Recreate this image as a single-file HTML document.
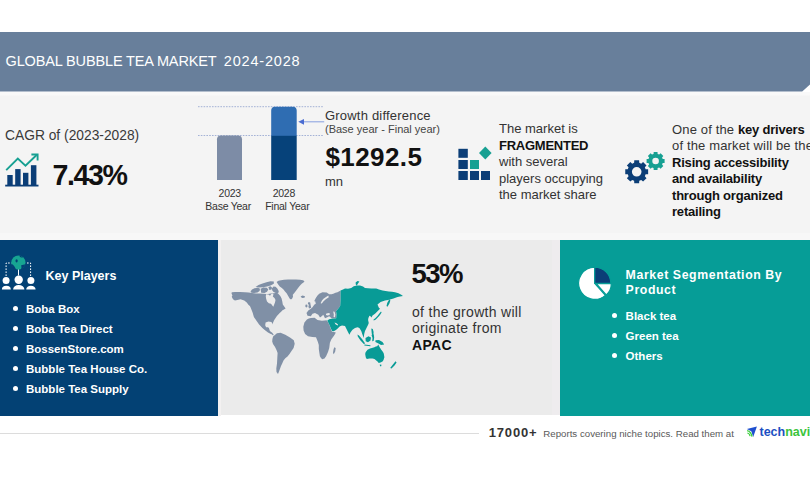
<!DOCTYPE html>
<html>
<head>
<meta charset="utf-8">
<style>
*{margin:0;padding:0;box-sizing:border-box}
html,body{width:810px;height:480px;overflow:hidden;background:#fff}
body{position:relative;font-family:"Liberation Sans",Arial,sans-serif;color:#222}
.a{position:absolute;white-space:nowrap}
#hdr{left:0;top:32px;width:810px;height:59.6px;background:#687f9b;clip-path:polygon(0 0,810px 0,810px 52.4px,802.2px 59.6px,0 59.6px)}
#title{left:5.5px;top:52.3px;font-size:14.5px;line-height:18px;color:#fff;letter-spacing:-0.14px}
#band{left:0;top:91.5px;width:810px;height:141px;background:linear-gradient(#f9f9f9 0,#f9f9f9 3px,#f4f4f4 4px)}
#strip{left:0;top:232.5px;width:810px;height:7.5px;background:#f7f7f7}
.t13{font-size:13px;line-height:16.5px;color:#333}
.b{font-weight:bold;color:#111}
.drv{letter-spacing:0.15px}.drv .b{letter-spacing:-0.2px}
#navy{left:0;top:239.7px;width:218px;height:176.5px;background:#034174}
#gap0{left:218px;top:239.7px;width:2.5px;height:176px;background:#f3f1f1}
#gray{left:220.5px;top:239.7px;width:331.2px;height:175.7px;background:#ebebeb}
#gap{left:551.7px;top:239.7px;width:7.9px;height:175.7px;background:#eeecee}
#teal{left:559.6px;top:239.7px;width:251px;height:176px;background:#069d97}
.w{color:#fff}
ul.l{list-style:none}
.l li{position:relative;font-weight:bold;font-size:11.5px;line-height:20px;color:#fff}
.l li:before{content:"";position:absolute;left:-13.2px;top:6.8px;width:5px;height:5px;border-radius:50%;background:#fff}
.lab{font-size:10.5px;line-height:12.5px;color:#333;letter-spacing:-0.25px}
#fline{left:0;top:433px;width:479px;height:1px;background:#dcdcdc}
</style>
</head>
<body>
<div class="a" id="hdr"></div>
<div class="a" id="title">GLOBAL BUBBLE TEA MARKET <span style="letter-spacing:0.81px;margin-left:3.7px">2024-2028</span></div>
<div class="a" id="band"></div>
<div class="a" id="strip"></div>

<!-- CAGR -->
<div class="a" id="cagr" style="left:5px;top:127px;font-size:13.8px;line-height:18px;color:#3a3a3a">CAGR of (2023-2028)</div>
<svg class="a" style="left:0;top:148px" width="45" height="45" viewBox="0 148 45 45">
  <g fill="#0b3e77">
    <rect x="7.3" y="175" width="5.4" height="10.5"/>
    <rect x="15.2" y="169.1" width="5.4" height="16.4"/>
    <rect x="23" y="172.8" width="5.4" height="12.7"/>
    <rect x="30.9" y="165.2" width="5.5" height="20.3"/>
    <rect x="5.2" y="184.7" width="33.3" height="1.8"/>
  </g>
  <polyline points="6.2,170.2 17.8,158.6 25.5,165.6 36.6,155" fill="none" stroke="#17a092" stroke-width="1.9"/>
  <polyline points="31.4,154.5 37.6,154.5 37.6,160.5" fill="none" stroke="#17a092" stroke-width="1.9"/>
</svg>
<div class="a" id="cagrv" style="left:52.5px;top:159.4px;font-size:28.6px;line-height:32px;font-weight:bold;color:#111;letter-spacing:-1.4px">7.43%</div>

<!-- bar chart -->
<svg class="a" style="left:196px;top:100px" width="130" height="85" viewBox="196 100 130 85">
  <line x1="198" y1="106.7" x2="323" y2="106.7" stroke="#a4b2d6" stroke-width="1" stroke-dasharray="1.6,1.2"/>
  <line x1="198" y1="135.5" x2="323" y2="135.5" stroke="#a4b2d6" stroke-width="1" stroke-dasharray="1.6,1.2"/>
  <path d="M217,180 V139.3 a3.8,3.8 0 0 1 3.8,-3.8 H238.2 a3.8,3.8 0 0 1 3.8,3.8 V180 Z" fill="#7d8ca6"/>
  <path d="M271.2,136 V110.5 a3.8,3.8 0 0 1 3.8,-3.8 H292.9 a3.8,3.8 0 0 1 3.8,3.8 V136 Z" fill="#2f6db2"/>
  <rect x="271.2" y="135.8" width="25.5" height="44.2" fill="#06427a"/>
  <line x1="302" y1="121.8" x2="324.2" y2="121.8" stroke="#8fa6e2" stroke-width="1.1"/>
  <path d="M298.3,121.8 L304,118.9 L304,124.7 Z" fill="#4a6cd2"/>
</svg>
<div class="a lab" style="left:218.6px;top:186.5px">2023</div>
<div class="a lab" style="left:205.3px;top:199.8px">Base Year</div>
<div class="a lab" style="left:272.7px;top:186.5px">2028</div>
<div class="a lab" style="left:265.2px;top:199.8px">Final Year</div>

<!-- growth -->
<div class="a" style="left:325px;top:108px;font-size:13px;line-height:15px;color:#333;letter-spacing:0.2px">Growth difference</div>
<div class="a" style="left:325px;top:123px;font-size:11px;line-height:13px;color:#444">(Base year - Final year)</div>
<div class="a" style="left:325.5px;top:142.8px;font-size:26px;line-height:28px;font-weight:bold;color:#111;letter-spacing:0.4px">$1292.5</div>
<div class="a" style="left:325px;top:174px;font-size:13px;line-height:15px;color:#333">mn</div>

<!-- fragmented -->
<svg class="a" style="left:456px;top:144px" width="38" height="38" viewBox="456 144 38 38">
  <g fill="#0b3e77">
    <rect x="458.4" y="148.8" width="9.4" height="9"/>
    <rect x="458.4" y="160" width="9.4" height="9"/>
    <rect x="458.4" y="171" width="9.4" height="9"/>
    <rect x="470" y="171" width="9" height="9"/>
    <rect x="481" y="171" width="9" height="9"/>
  </g>
  <rect x="470" y="160" width="9" height="9" fill="#17a092"/>
  <path d="M485.3,146.6 L491.6,153 L485.3,159.4 L479,153 Z" fill="#17a092"/>
</svg>
<div class="a t13" style="left:499px;top:121px">The market is<br><b class="b" style="letter-spacing:-0.25px">FRAGMENTED</b><br>with several<br>players occupying<br>the market share</div>

<!-- drivers -->
<svg class="a" style="left:622px;top:148px" width="45" height="38" viewBox="622 148 45 38" id="gears"><path fill-rule="evenodd" fill="#0b3e77" d="M634.14,162.86 L634.27,160.36 L639.13,160.36 L639.26,162.86 L641.21,163.67 L643.07,161.99 L646.51,165.43 L644.83,167.29 L645.64,169.24 L648.14,169.37 L648.14,174.23 L645.64,174.36 L644.83,176.31 L646.51,178.17 L643.07,181.61 L641.21,179.93 L639.26,180.74 L639.13,183.24 L634.27,183.24 L634.14,180.74 L632.19,179.93 L630.33,181.61 L626.89,178.17 L628.57,176.31 L627.76,174.36 L625.26,174.23 L625.26,169.37 L627.76,169.24 L628.57,167.29 L626.89,165.43 L630.33,161.99 L632.19,163.67Z M641.50,171.80 a4.8,4.8 0 1 0 -9.60,0 a4.8,4.8 0 1 0 9.60,0Z"/><path fill-rule="evenodd" fill="#17a092" d="M653.56,153.89 L653.69,152.00 L657.51,152.00 L657.64,153.89 L659.19,154.53 L660.61,153.28 L663.32,155.99 L662.07,157.41 L662.71,158.96 L664.60,159.09 L664.60,162.91 L662.71,163.04 L662.07,164.59 L663.32,166.01 L660.61,168.72 L659.19,167.47 L657.64,168.11 L657.51,170.00 L653.69,170.00 L653.56,168.11 L652.01,167.47 L650.59,168.72 L647.88,166.01 L649.13,164.59 L648.49,163.04 L646.60,162.91 L646.60,159.09 L648.49,158.96 L649.13,157.41 L647.88,155.99 L650.59,153.28 L652.01,154.53Z M658.90,161.00 a3.3,3.3 0 1 0 -6.60,0 a3.3,3.3 0 1 0 6.60,0Z"/></svg>
<div class="a t13 drv" style="left:672px;top:121.5px">One of the <b class="b">key drivers</b><br>of the market will be the<br><b class="b">Rising accessibility<br>and availability<br>through organized<br>retailing</b></div>

<!-- panels -->
<div class="a" id="navy"></div>
<div class="a" id="gray"></div>
<div class="a" id="gap"></div>
<div class="a" id="gap0"></div>
<div class="a" id="teal"></div>

<svg class="a" id="map" style="left:225px;top:275px" width="185" height="100" viewBox="225 275 185 100">
<path fill="#8090a6" d="M231.4,293 L232,292.3 L235,292 L240,292.1 L245,292.2 L248.6,292.4 L252,293 L256,293.4 L260,293.6 L264,293.8 L266,294.1 L268,294 L271,293.6 L274,293.2 L276.5,292.8 L278.5,294 L280.3,296 L281.6,298.5 L282.3,301.5 L282.8,304.5 L284.4,306.8 L285.6,308.6 L284,309.6 L282.5,310.3 L281.1,311.7 L279.7,313.1 L276.9,316 L274.1,320.2 L273.1,322.5 L272.7,324.4 L272.2,323 L271.3,322 L268.5,321.6 L265.6,322.5 L265.2,325.3 L266.1,327.2 L268,327.2 L268.9,328.1 L269.9,331 L272.2,332.8 L273.6,334.5 L273.1,335.5 L271.7,334.2 L270.3,333.8 L268,332.4 L264.7,330 L262.4,328.1 L259.1,324.4 L256.3,320.6 L253.9,316.9 L252.5,312.2 L250.6,307.5 L249.9,306 L248.6,304.9 L246.75,302.4 L244.25,300.5 L240.5,299.25 L237.4,299.9 L234.9,300.5 L233,299.25 L231.75,296.75 L232.4,295.5Z M250.5,291.5 L252,289.5 L254.5,288.2 L258,287.8 L260,288.8 L259.6,291 L257.5,292.6 L254,293 L251.5,292.8Z M260.6,288.8 L263.5,287.4 L266.8,287.8 L268.3,289.6 L267,291.8 L264.5,293 L261.2,292.8Z M255.5,287 L258.5,285 L262.5,283.6 L266.5,282.3 L270.5,281.3 L273.8,281.6 L273.8,283.8 L270.5,285.4 L267,286.6 L263,287.3 L259,287.6Z M268.3,287 L270.5,286.2 L272,287.6 L271.5,289.6 L269.4,290Z M271.8,288.6 L273.5,286.5 L275.6,286.8 L277.5,288.8 L278.8,291.2 L278.2,293.3 L275.8,293 L273.6,292 L272.3,290.4Z M276.6,282 L278.5,280.8 L281,280.2 L284,279.7 L288,279.5 L292,279.4 L296,279.5 L300,279.7 L303,280.2 L304.5,281.2 L303.5,282.5 L302,283.5 L300.5,285 L299,286.8 L297.5,288.8 L296,290.8 L294.5,292.8 L292.8,294.8 L293,296.8 L292.2,298.6 L291,299.4 L289.6,298.4 L288.2,296 L286.6,293.25 L285,291.4 L283.5,289.5 L281.5,287.8 L279.75,286.4 L278.2,284.5Z M300.6,296.5 L302.5,295.6 L305,296.2 L304.5,297.7 L302,297.9Z M273.1,336.6 L276.9,333.3 L280.6,332.8 L285.3,334.7 L290,337.5 L293.8,340.3 L294.7,343.7 L293.6,347.9 L291.5,351 L289.5,354.1 L287.5,356.5 L285.3,358.3 L283.5,360.5 L282.2,363.5 L281,366 L280,368.7 L279,371.5 L278,373.9 L276.5,372 L276.3,368.5 L277,363.5 L277.3,358 L277.6,353.1 L276.5,350 L274.9,346.8 L273,344 L272.2,341.6 L272.4,339Z M314.2,301.3 L315.8,298 L317.5,295.5 L319.2,293.8 L322.5,292.2 L326.7,292.6 L329.2,294.25 L331.5,294.2 L333.3,293.8 L335.5,292.8 L337.5,292.2 L340.6,290.5 L340.6,300 L340.2,306 L338,309 L336,311.3 L336.6,314 L336.2,318 L332,318.6 L329.2,316.3 L326.7,317.4 L325,318.2 L323.3,314.7 L321.7,316.3 L320,317.4 L318.3,314.7 L315,313 L312.5,313.8 L310.8,316.3 L307.5,315.7 L306.5,313 L308.3,310.5 L310.8,308.8 L312.5,307.2 L314.2,304.7 L315.8,303.8 L315.2,301.3Z M308.6,302 L310.2,302.6 L310.6,305 L311.2,307.8 L309,308.4 L308.4,306.5 L308.9,305 L307.8,303.5Z M306.9,319.5 L308.8,318.5 L310.9,318 L314.6,317.7 L317.5,320 L321.9,320.8 L324.5,320.4 L326.5,320.2 L327.3,321 L329.2,324.6 L330.6,328.2 L332.1,331.9 L334,332 L335.8,332.5 L334.8,334.5 L333.6,336.3 L331.4,339.2 L329.9,342.8 L329.25,347.9 L328,352 L326.1,356.2 L324.5,358.5 L322.2,359.3 L321,358 L319.9,356.2 L319.3,352.5 L318.8,349 L318.8,345 L317.9,342.1 L316.8,339.2 L316,337.3 L312.4,337 L308,336.3 L305.1,334.1 L303.6,330.4 L303.3,326.8 L304.4,322.4Z M334.3,347.3 L335.7,348 L335.2,351.5 L333.7,354.3 L333,352.8 L333.5,349.5Z"/>
<ellipse cx="306.4" cy="306" rx="1.1" ry="1.4" fill="#8090a6"/>
<path fill="#089b96" d="M340.6,290.5 L343,289.5 L345,288.5 L348,288.8 L351.25,287.9 L353.75,286.2 L357,285.4 L360,285.5 L363,286.5 L365,287.9 L368,288.3 L371.25,288.6 L376.25,288.6 L379,289.6 L382.5,290.4 L385.5,291 L388.75,291.6 L392,291.8 L395,292.3 L398.5,293.3 L401.25,294.75 L403,296 L400,296.6 L397.5,297.1 L393.5,298.5 L390,299.4 L388,300 L385,300.6 L380.6,301.9 L377.5,304.4 L378.75,307.5 L380,308.75 L377.5,311.25 L375,313.75 L372.5,315.6 L371.5,317.5 L370.2,316 L369.4,315.8 L368.4,318 L368.1,320 L368.75,323 L368.1,324.75 L366.25,328.5 L365,331 L364.2,334 L363.75,337.9 L362.5,334.75 L361.25,331 L359.4,327.9 L357.5,327.25 L355,327.9 L352.5,329.75 L350.6,332.25 L349.4,334.75 L348.1,332.25 L346.25,328.5 L345,326 L342,325.6 L340,326.2 L339.4,326.8 L337.2,329 L335.5,330.3 L333.6,331.2 L332.2,331.3 L330.9,328.5 L329.5,325 L328,322 L327.3,320.4 L329.2,319.3 L331.5,318.8 L333.5,318.6 L336.2,318.3 L336.6,314 L336,311.3 L338,309 L340.2,306 L340.6,300Z M355.6,282.6 L357.5,281 L359.4,281.6 L358,283.5 L356.8,285.4 L355.8,284.5Z M381,311.5 L381.6,312.5 L380,315 L378,317.3 L375.8,319.5 L373.8,320.5 L373.4,319.8 L375.5,318 L377.6,315.8 L379.5,313.2Z M389.2,299.6 L390.4,300.4 L389.4,303.5 L387.5,306.8 L386.5,306 L387.3,302.8Z M365.6,352.25 L367.5,349.75 L370,348.5 L371.9,347.9 L374.4,347.25 L375.8,346.5 L377.2,346.2 L378.3,344.6 L379.4,346.8 L380.5,348.5 L381.25,349.75 L383,352 L383.75,353.5 L384.4,357.25 L383.5,360 L382.5,361.6 L380.5,362.5 L378.75,362.9 L377.5,361.5 L376.25,360.4 L374.5,359 L372.5,358.5 L369.5,358.6 L366.9,359.1 L366,358 L365.6,356.6 L365.2,354Z M379.8,364.6 L381.5,364.7 L381.2,366.2 L380,366.3Z M395.5,361.3 L396.6,362.4 L394.5,365.5 L391.5,368.6 L390.2,368 L392.5,365Z M357.5,334.5 L359,335.5 L362,339 L365,343.3 L364,344.2 L360.5,340.5 L357.8,336.5Z M364.5,344.6 L370.5,345.3 L370.3,346.3 L364.3,345.6Z M365.5,338 L368.5,336.3 L371,337.5 L370.5,340.5 L368,342.3 L365.7,341.2Z M371.5,335 L373.8,334.5 L374.2,337.5 L373.6,341 L372.2,341.3 L372.5,338Z M371.3,328.5 L372.8,329 L373.6,332 L373.4,335 L372,335.2 L371.6,332Z M375.5,340.2 L379,340 L382.5,342 L384.2,344.6 L381,345 L378,343.3 L375.4,342Z"/>
<path fill="#ebebeb" d="M266,294.3 L268.5,294.6 L270,295.8 L271,294.2 L272.5,293.6 L273.5,294.5 L272.8,296.5 L274.5,298 L275.5,300 L275,302.5 L274.2,304.5 L273.3,306.8 L272.3,305.5 L271,303.8 L268.8,303.2 L267,301.5 L266.2,299 L265.8,296.5Z M328.3,295.5 L326,297 L323.5,298.8 L322,300.5 L320.6,303.2 L321.8,303.6 L323.6,301.2 L325.8,299.2 L328.8,297.2Z M333.2,311.5 L334.6,311.8 L335.4,314.5 L335,317.3 L333.6,317 L333.8,314.5Z M326,313.8 L328.3,313 L330,313.6 L329.5,315 L327.5,315.6 L326,315Z M334.5,322.6 L336.5,323.2 L338.2,324.8 L337.5,325.4 L335.5,324.2Z"/>
</svg>
<svg class="a" style="left:0;top:252px" width="40" height="40" viewBox="0 252 40 40">
  <g stroke="#fff" stroke-width="1" stroke-dasharray="1.6,1.4" fill="none">
    <path d="M6.1,276 V263 H11.5"/><path d="M30.6,276 V263 H27"/>
  </g>
  <line x1="18.5" y1="269" x2="18.5" y2="275.5" stroke="#fff" stroke-width="1"/>
  <circle cx="18.4" cy="262.6" r="7.1" fill="#17a592"/>
  <g fill="#034174">
  <path d="M11.5,264 C13,264.5 14.5,266 15.5,268.5 C16,269.5 15.5,270 14.8,269.6 C13,268.5 11.8,266.5 11.5,264 Z"/>
  <path d="M21,265.5 C22.5,264.8 24.3,264.5 25.3,264.3 C24.8,266.8 23,268.8 20.8,269.6 C21.8,268 21.5,266.5 21,265.5 Z"/>
  <ellipse cx="16.6" cy="260.8" rx="1.1" ry="1.6"/>
  <path d="M19.5,256.2 C20.5,257.5 21.5,257.8 23,257.5 C22,256.5 20.8,255.9 19.5,256.2 Z"/>
  </g>
  <circle cx="6.1" cy="280.6" r="3.5" fill="#fff"/>
  <circle cx="18.7" cy="279.7" r="4.2" fill="#fff"/>
  <circle cx="30.9" cy="280.6" r="3.5" fill="#fff"/>
  <path d="M1.9,289.4 a4.45,3.6 0 0 1 8.9,0 Z M13.1,289.4 a5.65,4.4 0 0 1 11.3,0 Z M26.2,289.4 a4.7,3.6 0 0 1 9.4,0 Z" fill="#fff"/>
</svg>
<div class="a w" style="left:45.5px;top:267.8px;font-size:12.5px;line-height:17px;font-weight:bold">Key Players</div>
<ul class="a l" style="left:26px;top:299px">
<li>Boba Box</li><li>Boba Tea Direct</li><li>BossenStore.com</li><li>Bubble Tea House Co.</li><li>Bubble Tea Supply</li>
</ul>

<div class="a" style="left:411.5px;top:259px;font-size:27.5px;line-height:30px;font-weight:bold;color:#111;letter-spacing:-1.5px">53%</div>
<div class="a" style="left:412px;top:304px;font-size:14px;line-height:16.3px;color:#333;letter-spacing:0.3px">of the growth will<br>originate from<br><b style="color:#111">APAC</b></div>

<svg class="a" style="left:576px;top:264px" width="40" height="40" viewBox="576 264 40 40">
  <g stroke="#069d97" stroke-width="1.2" stroke-linejoin="miter">
  <path d="M594.7,283.3 L605.37,295.36 A16.1,16.1 0 1 1 594.7,267.2 Z" fill="#fff"/>
  <path d="M594.7,283.3 V267.2 A16.1,16.1 0 0 1 610.8,283.3 Z" fill="#0b3e77"/>
  <path d="M596.3,283.7 H611.3 A15,15 0 0 1 606.24,294.94 Z" fill="#fff"/>
  </g>
</svg>
<div class="a w" style="left:625.6px;top:268.4px;font-size:12.3px;line-height:14.5px;font-weight:bold;letter-spacing:0.6px">Market Segmentation By<br>Product</div>
<ul class="a l" style="left:625.6px;top:306px">
<li>Black tea</li><li>Green tea</li><li>Others</li>
</ul>

<!-- footer -->
<div class="a" id="fline"></div>
<div class="a" style="left:488.8px;top:425px;font-size:13px;line-height:16px;font-weight:bold;color:#333;letter-spacing:0.8px">17000+</div>
<div class="a" style="left:543.3px;top:427.3px;font-size:9.7px;line-height:14px;color:#595959">Reports covering niche topics. Read them at</div>
<svg class="a" style="left:744px;top:424px" width="15" height="15" viewBox="744 424 15 15">
  <path d="M756.9,426.4 L746.9,429 L751.3,431.2 L753.2,436.9 Z" fill="#1f50cf"/>
  <path d="M747.1,430.6 Q751,431.4 752,436.6" stroke="#3ccf3c" stroke-width="1.3" fill="none"/>
  <path d="M747.4,433 Q749.6,433.4 750.1,436.2" stroke="#3ccf3c" stroke-width="1.2" fill="none"/>
</svg>
<div class="a" style="left:759.5px;top:423.6px;font-size:12.5px;line-height:17px;font-weight:bold;color:#1d4fc2">tech<span style="color:#3cc43c">navio</span></div>
</body>
</html>
